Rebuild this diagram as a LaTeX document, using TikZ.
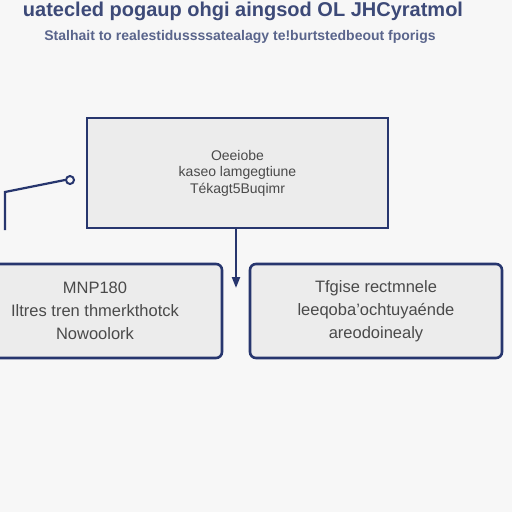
\documentclass[tikz,border=0pt]{standalone}
\usepackage{fontspec}
\setmainfont{Liberation Sans}
\usetikzlibrary{arrows.meta}
\definecolor{navy}{HTML}{27366E}
\definecolor{slate}{HTML}{3D4A78}
\definecolor{boxfill}{HTML}{ECECEC}
\definecolor{paper}{HTML}{F7F7F7}
\definecolor{boxtext}{HTML}{4A4A4A}

\begin{document}
\begin{tikzpicture}[
    x=1pt, y=-1pt,
    title/.style={font=\fontsize{20}{24}\selectfont\bfseries, text=slate},
    subtitle/.style={font=\fontsize{14}{16}\selectfont\bfseries, text=slate!85},
    panel/.style={draw=navy, fill=boxfill, line width=2.6pt, align=center,
        font=\fontsize{14}{16.5}\selectfont, text=boxtext},
    subpanel/.style={panel, rounded corners=6pt,
        font=\fontsize{16.5}{23}\selectfont},
    flow/.style={-{Triangle[length=11pt,width=8pt]}, line width=2.2pt, draw=navy},
    wire/.style={line width=2.2pt, draw=navy}
]
\fill[paper] (0,0) rectangle (512,512);
\useasboundingbox (0,0) rectangle (512,512);
\node[title] (head) at (243,11)
    {uatecled pogaup ohgi aingsod OL JHCyratmol};
\node[subtitle] (sub) at (240,37)
    {Stalhait to realestidussssatealagy te!burtstedbeout fporigs};
\node[panel, minimum width=301pt, minimum height=110pt] (overview) at (237.5,173)
    {Oeeiobe\\
     kaseo lamgegtiune\\
     Tékagt5Buqimr};
\node[subpanel, minimum width=254pt, minimum height=94pt] (left) at (95,311)
    {MNP180\\
     Iltres tren thmerkthotck\\
     Nowoolork};
\node[subpanel, minimum width=252pt, minimum height=94pt] (right) at (376,311)
    {Tfgise rectmnele\\
     leeqoba'ochtuyaénde\\
     areodoinealy};
\node[draw=navy, line width=2pt, circle, inner sep=0pt, minimum size=8pt] (knob) at (70,180) {};
\coordinate (drop) at (236,288);
\coordinate (lfoot) at (5,230);
\coordinate (lbend) at (5,192);
\draw[flow] (overview.south -| drop) -- (drop);
\draw[wire] (lfoot) -- (lbend) -- (knob.west);
\end{tikzpicture}
\end{document}
